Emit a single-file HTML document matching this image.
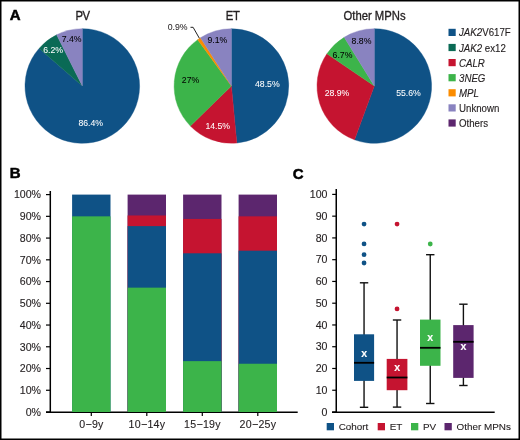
<!DOCTYPE html>
<html><head><meta charset="utf-8"><style>
html,body{margin:0;padding:0;background:#fff;}
svg{display:block;will-change:transform;}
text{font-family:"Liberation Sans",sans-serif;}
</style></head><body>
<svg width="520" height="440" viewBox="0 0 520 440">
<rect width="520" height="440" fill="#fff"/>
<text x="9.8" y="20.1" font-size="15" fill="#000" text-anchor="start" font-weight="bold" font-style="normal" stroke="#000" stroke-width="0.5">A</text>
<text x="9.8" y="178.4" font-size="15" fill="#000" text-anchor="start" font-weight="bold" font-style="normal" stroke="#000" stroke-width="0.5">B</text>
<text x="292.8" y="178.6" font-size="15" fill="#000" text-anchor="start" font-weight="bold" font-style="normal" stroke="#000" stroke-width="0.5">C</text>
<text transform="translate(82.6,20.3) scale(1,1.07)" x="0" y="0" font-size="11.3" fill="#231f20" text-anchor="middle" font-weight="normal" font-style="normal" letter-spacing="-0.5" stroke="#231f20" stroke-width="0.3">PV</text>
<text transform="translate(232.6,20.3) scale(1,1.07)" x="0" y="0" font-size="11.3" fill="#231f20" text-anchor="middle" font-weight="normal" font-style="normal" letter-spacing="-0.3" stroke="#231f20" stroke-width="0.3">ET</text>
<text transform="translate(374.5,20.3) scale(1,1.07)" x="0" y="0" font-size="11.3" fill="#231f20" text-anchor="middle" font-weight="normal" font-style="normal" stroke="#231f20" stroke-width="0.3">Other MPNs</text>
<path d="M82.30,86.00 L82.30,28.70 A57.3,57.3 0 1 1 39.08,48.38 Z" fill="#0f5286" stroke="#0f5286" stroke-width="0.4" stroke-linejoin="round"/>
<path d="M82.30,86.00 L39.08,48.38 A57.3,57.3 0 0 1 56.61,34.78 Z" fill="#0a6a55" stroke="#0a6a55" stroke-width="0.4" stroke-linejoin="round"/>
<path d="M82.30,86.00 L56.61,34.78 A57.3,57.3 0 0 1 82.30,28.70 Z" fill="#8983c0" stroke="#8983c0" stroke-width="0.4" stroke-linejoin="round"/>
<path d="M231.40,86.00 L231.40,28.70 A57.3,57.3 0 0 1 236.79,143.05 Z" fill="#0f5286" stroke="#0f5286" stroke-width="0.4" stroke-linejoin="round"/>
<path d="M231.40,86.00 L236.79,143.05 A57.3,57.3 0 0 1 190.38,126.00 Z" fill="#c51430" stroke="#c51430" stroke-width="0.4" stroke-linejoin="round"/>
<path d="M231.40,86.00 L190.38,126.00 A57.3,57.3 0 0 1 197.72,39.64 Z" fill="#3cb44a" stroke="#3cb44a" stroke-width="0.4" stroke-linejoin="round"/>
<path d="M231.40,86.00 L197.72,39.64 A57.3,57.3 0 0 1 200.39,37.81 Z" fill="#fb8c00" stroke="#fb8c00" stroke-width="0.4" stroke-linejoin="round"/>
<path d="M231.40,86.00 L200.39,37.81 A57.3,57.3 0 0 1 231.40,28.70 Z" fill="#8983c0" stroke="#8983c0" stroke-width="0.4" stroke-linejoin="round"/>
<path d="M374.30,86.00 L374.30,28.70 A57.3,57.3 0 1 1 354.55,139.79 Z" fill="#0f5286" stroke="#0f5286" stroke-width="0.4" stroke-linejoin="round"/>
<path d="M374.30,86.00 L354.55,139.79 A57.3,57.3 0 0 1 326.91,53.79 Z" fill="#c51430" stroke="#c51430" stroke-width="0.4" stroke-linejoin="round"/>
<path d="M374.30,86.00 L326.91,53.79 A57.3,57.3 0 0 1 344.21,37.24 Z" fill="#3cb44a" stroke="#3cb44a" stroke-width="0.4" stroke-linejoin="round"/>
<path d="M374.30,86.00 L344.21,37.24 A57.3,57.3 0 0 1 374.30,28.70 Z" fill="#8983c0" stroke="#8983c0" stroke-width="0.4" stroke-linejoin="round"/>
<text x="90.7" y="126.0146" font-size="8.7" fill="#fff" text-anchor="middle" font-weight="normal" font-style="normal" stroke="#fff" stroke-width="0.05">86.4%</text>
<text x="53.2" y="52.814600000000006" font-size="8.7" fill="#fff" text-anchor="middle" font-weight="normal" font-style="normal" stroke="#fff" stroke-width="0.05">6.2%</text>
<text x="71.6" y="42.4146" font-size="8.7" fill="#000" text-anchor="middle" font-weight="normal" font-style="normal" stroke="#000" stroke-width="0.05">7.4%</text>
<text x="267.3" y="87.1146" font-size="8.7" fill="#fff" text-anchor="middle" font-weight="normal" font-style="normal" stroke="#fff" stroke-width="0.05">48.5%</text>
<text x="217.7" y="129.4146" font-size="8.7" fill="#fff" text-anchor="middle" font-weight="normal" font-style="normal" stroke="#fff" stroke-width="0.05">14.5%</text>
<text x="190.5" y="83.3146" font-size="8.7" fill="#000" text-anchor="middle" font-weight="normal" font-style="normal" stroke="#000" stroke-width="0.05">27%</text>
<text x="217.3" y="42.6146" font-size="8.7" fill="#000" text-anchor="middle" font-weight="normal" font-style="normal" stroke="#000" stroke-width="0.05">9.1%</text>
<text x="177.6" y="29.6146" font-size="8.7" fill="#231f20" text-anchor="middle" font-weight="normal" font-style="normal" stroke="#231f20" stroke-width="0.05">0.9%</text>
<polyline points="190.5,27.3 193.1,27.3 199.4,38.3" fill="none" stroke="#222" stroke-width="1"/>
<text x="408.5" y="96.21459999999999" font-size="8.7" fill="#fff" text-anchor="middle" font-weight="normal" font-style="normal" stroke="#fff" stroke-width="0.05">55.6%</text>
<text x="337" y="96.21459999999999" font-size="8.7" fill="#fff" text-anchor="middle" font-weight="normal" font-style="normal" stroke="#fff" stroke-width="0.05">28.9%</text>
<text x="342.5" y="58.0146" font-size="8.7" fill="#000" text-anchor="middle" font-weight="normal" font-style="normal" stroke="#000" stroke-width="0.05">6.7%</text>
<text x="361.5" y="44.1146" font-size="8.7" fill="#000" text-anchor="middle" font-weight="normal" font-style="normal" stroke="#000" stroke-width="0.05">8.8%</text>
<rect x="448.5" y="28.80" width="7.2" height="7.2" fill="#0f5286"/>
<text transform="translate(459,36.4) scale(1,1.1)" x="0" y="0" font-size="9.7" fill="#231f20" text-anchor="start" font-weight="normal" font-style="normal"  stroke="#231f20" stroke-width="0.12"><tspan font-style="italic">JAK2</tspan>V617F</text>
<rect x="448.5" y="43.90" width="7.2" height="7.2" fill="#0a6a55"/>
<text transform="translate(459,51.5) scale(1,1.1)" x="0" y="0" font-size="9.7" fill="#231f20" text-anchor="start" font-weight="normal" font-style="normal"  stroke="#231f20" stroke-width="0.12"><tspan font-style="italic">JAK2</tspan> ex12</text>
<rect x="448.5" y="59.00" width="7.2" height="7.2" fill="#c51430"/>
<text transform="translate(459,66.6) scale(1,1.1)" x="0" y="0" font-size="9.7" fill="#231f20" text-anchor="start" font-weight="normal" font-style="normal"  stroke="#231f20" stroke-width="0.12"><tspan font-style="italic">CALR</tspan></text>
<rect x="448.5" y="74.10" width="7.2" height="7.2" fill="#3cb44a"/>
<text transform="translate(459,81.69999999999999) scale(1,1.1)" x="0" y="0" font-size="9.7" fill="#231f20" text-anchor="start" font-weight="normal" font-style="normal"  stroke="#231f20" stroke-width="0.12"><tspan font-style="italic">3NEG</tspan></text>
<rect x="448.5" y="89.20" width="7.2" height="7.2" fill="#fb8c00"/>
<text transform="translate(459,96.8) scale(1,1.1)" x="0" y="0" font-size="9.7" fill="#231f20" text-anchor="start" font-weight="normal" font-style="normal"  stroke="#231f20" stroke-width="0.12"><tspan font-style="italic">MPL</tspan></text>
<rect x="448.5" y="104.30" width="7.2" height="7.2" fill="#8983c0"/>
<text transform="translate(459,111.89999999999999) scale(1,1.1)" x="0" y="0" font-size="9.7" fill="#231f20" text-anchor="start" font-weight="normal" font-style="normal"  stroke="#231f20" stroke-width="0.12">Unknown</text>
<rect x="448.5" y="119.40" width="7.2" height="7.2" fill="#5c266e"/>
<text transform="translate(459,126.99999999999999) scale(1,1.1)" x="0" y="0" font-size="9.7" fill="#231f20" text-anchor="start" font-weight="normal" font-style="normal"  stroke="#231f20" stroke-width="0.12">Others</text>
<line x1="50.3" y1="191" x2="50.3" y2="412.7" stroke="#000" stroke-width="1.5"/>
<line x1="46" y1="412.15" x2="297.7" y2="412.15" stroke="#000" stroke-width="1.5"/>
<line x1="46" y1="412.00" x2="50.3" y2="412.00" stroke="#000" stroke-width="1.2"/>
<text x="41" y="415.763" font-size="10.6" fill="#231f20" text-anchor="end" font-weight="normal" font-style="normal"  stroke="#231f20" stroke-width="0.12">0%</text>
<line x1="46" y1="390.26" x2="50.3" y2="390.26" stroke="#000" stroke-width="1.2"/>
<text x="41" y="394.02299999999997" font-size="10.6" fill="#231f20" text-anchor="end" font-weight="normal" font-style="normal"  stroke="#231f20" stroke-width="0.12">10%</text>
<line x1="46" y1="368.52" x2="50.3" y2="368.52" stroke="#000" stroke-width="1.2"/>
<text x="41" y="372.28299999999996" font-size="10.6" fill="#231f20" text-anchor="end" font-weight="normal" font-style="normal"  stroke="#231f20" stroke-width="0.12">20%</text>
<line x1="46" y1="346.78" x2="50.3" y2="346.78" stroke="#000" stroke-width="1.2"/>
<text x="41" y="350.54299999999995" font-size="10.6" fill="#231f20" text-anchor="end" font-weight="normal" font-style="normal"  stroke="#231f20" stroke-width="0.12">30%</text>
<line x1="46" y1="325.04" x2="50.3" y2="325.04" stroke="#000" stroke-width="1.2"/>
<text x="41" y="328.803" font-size="10.6" fill="#231f20" text-anchor="end" font-weight="normal" font-style="normal"  stroke="#231f20" stroke-width="0.12">40%</text>
<line x1="46" y1="303.30" x2="50.3" y2="303.30" stroke="#000" stroke-width="1.2"/>
<text x="41" y="307.063" font-size="10.6" fill="#231f20" text-anchor="end" font-weight="normal" font-style="normal"  stroke="#231f20" stroke-width="0.12">50%</text>
<line x1="46" y1="281.56" x2="50.3" y2="281.56" stroke="#000" stroke-width="1.2"/>
<text x="41" y="285.323" font-size="10.6" fill="#231f20" text-anchor="end" font-weight="normal" font-style="normal"  stroke="#231f20" stroke-width="0.12">60%</text>
<line x1="46" y1="259.82" x2="50.3" y2="259.82" stroke="#000" stroke-width="1.2"/>
<text x="41" y="263.58299999999997" font-size="10.6" fill="#231f20" text-anchor="end" font-weight="normal" font-style="normal"  stroke="#231f20" stroke-width="0.12">70%</text>
<line x1="46" y1="238.08" x2="50.3" y2="238.08" stroke="#000" stroke-width="1.2"/>
<text x="41" y="241.84300000000002" font-size="10.6" fill="#231f20" text-anchor="end" font-weight="normal" font-style="normal"  stroke="#231f20" stroke-width="0.12">80%</text>
<line x1="46" y1="216.34" x2="50.3" y2="216.34" stroke="#000" stroke-width="1.2"/>
<text x="41" y="220.103" font-size="10.6" fill="#231f20" text-anchor="end" font-weight="normal" font-style="normal"  stroke="#231f20" stroke-width="0.12">90%</text>
<line x1="46" y1="194.60" x2="50.3" y2="194.60" stroke="#000" stroke-width="1.2"/>
<text x="41" y="198.363" font-size="10.6" fill="#231f20" text-anchor="end" font-weight="normal" font-style="normal"  stroke="#231f20" stroke-width="0.12">100%</text>
<rect x="72.10" y="194.60" width="38.4" height="217.40" fill="#0f5286"/>
<rect x="72.10" y="216.34" width="38.4" height="195.66" fill="#3cb44a"/>
<line x1="91.30" y1="412.0" x2="91.30" y2="416" stroke="#000" stroke-width="1.2"/>
<text x="91.45" y="428.4" font-size="10.6" fill="#231f20" text-anchor="middle" font-weight="normal" font-style="normal" letter-spacing="0.3" stroke="#231f20" stroke-width="0.12">0−9y</text>
<rect x="127.60" y="194.60" width="38.4" height="217.40" fill="#5c266e"/>
<rect x="127.60" y="215.47" width="38.4" height="196.53" fill="#c51430"/>
<rect x="127.60" y="226.12" width="38.4" height="185.88" fill="#0f5286"/>
<rect x="127.60" y="287.65" width="38.4" height="124.35" fill="#3cb44a"/>
<line x1="146.80" y1="412.0" x2="146.80" y2="416" stroke="#000" stroke-width="1.2"/>
<text x="146.95" y="428.4" font-size="10.6" fill="#231f20" text-anchor="middle" font-weight="normal" font-style="normal" letter-spacing="0.3" stroke="#231f20" stroke-width="0.12">10−14y</text>
<rect x="183.10" y="194.60" width="38.4" height="217.40" fill="#5c266e"/>
<rect x="183.10" y="218.95" width="38.4" height="193.05" fill="#c51430"/>
<rect x="183.10" y="253.30" width="38.4" height="158.70" fill="#0f5286"/>
<rect x="183.10" y="361.13" width="38.4" height="50.87" fill="#3cb44a"/>
<line x1="202.30" y1="412.0" x2="202.30" y2="416" stroke="#000" stroke-width="1.2"/>
<text x="202.45" y="428.4" font-size="10.6" fill="#231f20" text-anchor="middle" font-weight="normal" font-style="normal" letter-spacing="0.3" stroke="#231f20" stroke-width="0.12">15−19y</text>
<rect x="238.60" y="194.60" width="38.4" height="217.40" fill="#5c266e"/>
<rect x="238.60" y="216.34" width="38.4" height="195.66" fill="#c51430"/>
<rect x="238.60" y="250.69" width="38.4" height="161.31" fill="#0f5286"/>
<rect x="238.60" y="363.74" width="38.4" height="48.26" fill="#3cb44a"/>
<line x1="257.80" y1="412.0" x2="257.80" y2="416" stroke="#000" stroke-width="1.2"/>
<text x="257.95" y="428.4" font-size="10.6" fill="#231f20" text-anchor="middle" font-weight="normal" font-style="normal" letter-spacing="0.3" stroke="#231f20" stroke-width="0.12">20−25y</text>
<line x1="336.25" y1="189" x2="336.25" y2="412.7" stroke="#000" stroke-width="1.5"/>
<line x1="332" y1="412.15" x2="494.7" y2="412.15" stroke="#000" stroke-width="1.5"/>
<line x1="332.2" y1="412.00" x2="336.25" y2="412.00" stroke="#000" stroke-width="1.2"/>
<text x="327.5" y="415.763" font-size="10.6" fill="#231f20" text-anchor="end" font-weight="normal" font-style="normal"  stroke="#231f20" stroke-width="0.12">0</text>
<line x1="332.2" y1="390.24" x2="336.25" y2="390.24" stroke="#000" stroke-width="1.2"/>
<text x="327.5" y="394.003" font-size="10.6" fill="#231f20" text-anchor="end" font-weight="normal" font-style="normal"  stroke="#231f20" stroke-width="0.12">10</text>
<line x1="332.2" y1="368.48" x2="336.25" y2="368.48" stroke="#000" stroke-width="1.2"/>
<text x="327.5" y="372.243" font-size="10.6" fill="#231f20" text-anchor="end" font-weight="normal" font-style="normal"  stroke="#231f20" stroke-width="0.12">20</text>
<line x1="332.2" y1="346.72" x2="336.25" y2="346.72" stroke="#000" stroke-width="1.2"/>
<text x="327.5" y="350.483" font-size="10.6" fill="#231f20" text-anchor="end" font-weight="normal" font-style="normal"  stroke="#231f20" stroke-width="0.12">30</text>
<line x1="332.2" y1="324.96" x2="336.25" y2="324.96" stroke="#000" stroke-width="1.2"/>
<text x="327.5" y="328.72299999999996" font-size="10.6" fill="#231f20" text-anchor="end" font-weight="normal" font-style="normal"  stroke="#231f20" stroke-width="0.12">40</text>
<line x1="332.2" y1="303.20" x2="336.25" y2="303.20" stroke="#000" stroke-width="1.2"/>
<text x="327.5" y="306.96299999999997" font-size="10.6" fill="#231f20" text-anchor="end" font-weight="normal" font-style="normal"  stroke="#231f20" stroke-width="0.12">50</text>
<line x1="332.2" y1="281.44" x2="336.25" y2="281.44" stroke="#000" stroke-width="1.2"/>
<text x="327.5" y="285.203" font-size="10.6" fill="#231f20" text-anchor="end" font-weight="normal" font-style="normal"  stroke="#231f20" stroke-width="0.12">60</text>
<line x1="332.2" y1="259.68" x2="336.25" y2="259.68" stroke="#000" stroke-width="1.2"/>
<text x="327.5" y="263.443" font-size="10.6" fill="#231f20" text-anchor="end" font-weight="normal" font-style="normal"  stroke="#231f20" stroke-width="0.12">70</text>
<line x1="332.2" y1="237.92" x2="336.25" y2="237.92" stroke="#000" stroke-width="1.2"/>
<text x="327.5" y="241.683" font-size="10.6" fill="#231f20" text-anchor="end" font-weight="normal" font-style="normal"  stroke="#231f20" stroke-width="0.12">80</text>
<line x1="332.2" y1="216.16" x2="336.25" y2="216.16" stroke="#000" stroke-width="1.2"/>
<text x="327.5" y="219.923" font-size="10.6" fill="#231f20" text-anchor="end" font-weight="normal" font-style="normal"  stroke="#231f20" stroke-width="0.12">90</text>
<line x1="332.2" y1="194.40" x2="336.25" y2="194.40" stroke="#000" stroke-width="1.2"/>
<text x="327.5" y="198.163" font-size="10.6" fill="#231f20" text-anchor="end" font-weight="normal" font-style="normal"  stroke="#231f20" stroke-width="0.12">100</text>
<line x1="364.05" y1="282.8" x2="364.05" y2="407.3" stroke="#111" stroke-width="1.4"/>
<line x1="359.85" y1="282.8" x2="368.25" y2="282.8" stroke="#111" stroke-width="1.4"/>
<line x1="359.85" y1="407.3" x2="368.25" y2="407.3" stroke="#111" stroke-width="1.4"/>
<rect x="354" y="334.3" width="20.10" height="46.60" fill="#0f5286"/>
<line x1="354" y1="362.8" x2="374.1" y2="362.8" stroke="#000" stroke-width="1.8"/>
<text x="364.1" y="357.20000000000005" font-size="10.6" fill="#fff" text-anchor="middle" font-weight="bold" font-style="normal"  stroke="#fff" stroke-width="0.12">x</text>
<circle cx="364.05" cy="224.1" r="2.4" fill="#0f5286"/>
<circle cx="364.05" cy="243.9" r="2.4" fill="#0f5286"/>
<circle cx="364.05" cy="254.7" r="2.4" fill="#0f5286"/>
<circle cx="364.05" cy="263" r="2.4" fill="#0f5286"/>
<line x1="397.05" y1="320" x2="397.05" y2="407.1" stroke="#111" stroke-width="1.4"/>
<line x1="392.85" y1="320" x2="401.25" y2="320" stroke="#111" stroke-width="1.4"/>
<line x1="392.85" y1="407.1" x2="401.25" y2="407.1" stroke="#111" stroke-width="1.4"/>
<rect x="386.7" y="358.9" width="20.70" height="31.30" fill="#c51430"/>
<line x1="386.7" y1="377.5" x2="407.4" y2="377.5" stroke="#000" stroke-width="1.8"/>
<text x="397.1" y="370.90000000000003" font-size="10.6" fill="#fff" text-anchor="middle" font-weight="bold" font-style="normal"  stroke="#fff" stroke-width="0.12">x</text>
<circle cx="397.05" cy="224.1" r="2.4" fill="#c51430"/>
<circle cx="397.05" cy="308.9" r="2.4" fill="#c51430"/>
<line x1="430.25" y1="254.7" x2="430.25" y2="403.5" stroke="#111" stroke-width="1.4"/>
<line x1="426.05" y1="254.7" x2="434.45" y2="254.7" stroke="#111" stroke-width="1.4"/>
<line x1="426.05" y1="403.5" x2="434.45" y2="403.5" stroke="#111" stroke-width="1.4"/>
<rect x="420" y="319.6" width="20.50" height="46.20" fill="#3cb44a"/>
<line x1="420" y1="347.8" x2="440.5" y2="347.8" stroke="#000" stroke-width="1.8"/>
<text x="430.3" y="341.20000000000005" font-size="10.6" fill="#fff" text-anchor="middle" font-weight="bold" font-style="normal"  stroke="#fff" stroke-width="0.12">x</text>
<circle cx="430.25" cy="244" r="2.4" fill="#3cb44a"/>
<line x1="463.40" y1="304.2" x2="463.40" y2="385.5" stroke="#111" stroke-width="1.4"/>
<line x1="459.20" y1="304.2" x2="467.60" y2="304.2" stroke="#111" stroke-width="1.4"/>
<line x1="459.20" y1="385.5" x2="467.60" y2="385.5" stroke="#111" stroke-width="1.4"/>
<rect x="453.2" y="325.1" width="20.40" height="52.80" fill="#5c266e"/>
<line x1="453.2" y1="341.8" x2="473.6" y2="341.8" stroke="#000" stroke-width="1.8"/>
<text x="463.4" y="350.1" font-size="10.6" fill="#fff" text-anchor="middle" font-weight="bold" font-style="normal"  stroke="#fff" stroke-width="0.12">x</text>
<rect x="326.7" y="423" width="7.3" height="7.3" fill="#0f5286"/>
<text x="338.7" y="430.4" font-size="9.9" fill="#231f20" text-anchor="start" font-weight="normal" font-style="normal"  stroke="#231f20" stroke-width="0.12">Cohort</text>
<rect x="377.7" y="423" width="7.3" height="7.3" fill="#c51430"/>
<text x="389.7" y="430.4" font-size="9.9" fill="#231f20" text-anchor="start" font-weight="normal" font-style="normal"  stroke="#231f20" stroke-width="0.12">ET</text>
<rect x="411" y="423" width="7.3" height="7.3" fill="#3cb44a"/>
<text x="423" y="430.4" font-size="9.9" fill="#231f20" text-anchor="start" font-weight="normal" font-style="normal"  stroke="#231f20" stroke-width="0.12">PV</text>
<rect x="444.5" y="423" width="7.3" height="7.3" fill="#5c266e"/>
<text x="456.5" y="430.4" font-size="9.9" fill="#231f20" text-anchor="start" font-weight="normal" font-style="normal"  stroke="#231f20" stroke-width="0.12">Other MPNs</text>
<rect x="0" y="0" width="520" height="440" fill="none" stroke="#000" stroke-width="3"/>
</svg>
</body></html>
